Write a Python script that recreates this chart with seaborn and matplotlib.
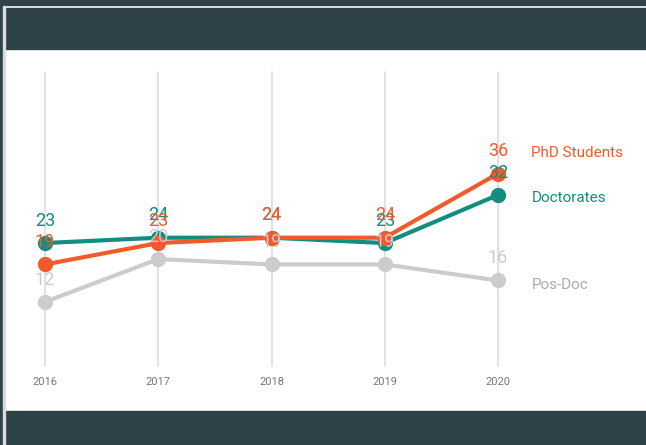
"""Line chart: PhD students, doctorates and post-docs per year"""

import numpy as np
import pandas as pd
import matplotlib.pyplot as plt
import seaborn as sns
from matplotlib.patches import Rectangle

years = [2016, 2017, 2018, 2019, 2020]
phd_students = [19, 23, 24, 24, 36]
doctorates = [23, 24, 24, 23, 32]
pos_doc = [12, 20, 19, 19, 16]

series_names = ['Doctorates', 'PhD Students', 'Pos-Doc']
colors = {'Doctorates': '#138d80', 'PhD Students': '#f15a2b', 'Pos-Doc': '#cccccc'}
label_colors = {'Doctorates': '#138d80', 'PhD Students': '#f15a2b', 'Pos-Doc': '#aaaaaa'}
# 末端名称的竖直偏移（点）
end_offsets = {'Doctorates': -2.5, 'PhD Students': 14.5, 'Pos-Doc': -3}

df = pd.DataFrame({
    'year': years * 3,
    'value': doctorates + phd_students + pos_doc,
    'series': ['Doctorates'] * 5 + ['PhD Students'] * 5 + ['Pos-Doc'] * 5,
})

sns.set_theme(style='white')
plt.rcParams['font.family'] = ['Roboto', 'DejaVu Sans']

W, H = 646, 445
fig = plt.figure(figsize=(W / 100, H / 100), dpi=100)
fig.patch.set_facecolor('white')

# 外框和上下深色条
dark = '#2e4247'
fig.patches.append(Rectangle((0, 1 - 5 / H), 1, 5 / H, transform=fig.transFigure, color=dark, zorder=0))
fig.patches.append(Rectangle((0, 0), 3 / W, 1, transform=fig.transFigure, color=dark, zorder=0))
fig.patches.append(Rectangle((5 / W, 1 - 49 / H), 1, 41 / H, transform=fig.transFigure, color=dark, zorder=0))
fig.patches.append(Rectangle((5 / W, 0), 1, 34 / H, transform=fig.transFigure, color=dark, zorder=0))
fig.patches.append(Rectangle((3 / W, 0), 1.5 / W, 1 - 6 / H, transform=fig.transFigure, color='#d8dcdc', zorder=0))

ax = fig.add_axes([45 / W, 1 - 366 / H, (498 - 45) / W, (366 - 72) / H])
ax.set_facecolor('none')

# 竖直网格线（不裁剪，保证两端完整）
for y in years:
    ax.axvline(y, color='#dddddd', linewidth=1.2, zorder=1, clip_on=False)

sns.lineplot(data=df, x='year', y='value', hue='series', hue_order=series_names,
             palette=colors, linewidth=3, marker='o', markersize=11,
             markeredgewidth=0, legend=False, ax=ax, zorder=3)

for line in ax.lines:
    line.set_clip_on(False)

ax.set_xlim(2016, 2020)
ax.set_ylim(0, 55)
ax.set_xticks(years)
ax.set_xticklabels([str(y) for y in years], fontsize=8, color='#777777')
ax.tick_params(axis='x', length=0, pad=8)
ax.set_yticks([])
ax.set_xlabel('')
ax.set_ylabel('')
sns.despine(ax=ax, left=True, bottom=True)

values = {'Doctorates': doctorates, 'PhD Students': phd_students, 'Pos-Doc': pos_doc}
for name in series_names:
    for x, v in zip(years, values[name]):
        ax.annotate(str(v), (x, v), xytext=(0, 16), textcoords='offset points',
                    ha='center', va='center', fontsize=13, color=colors[name],
                    zorder=5, annotation_clip=False)
    ax.annotate(name, (years[-1], values[name][-1]), xytext=(24, end_offsets[name]),
                textcoords='offset points', ha='left', va='center', fontsize=11,
                color=label_colors[name], annotation_clip=False)

plt.savefig('out.png', dpi=100)
